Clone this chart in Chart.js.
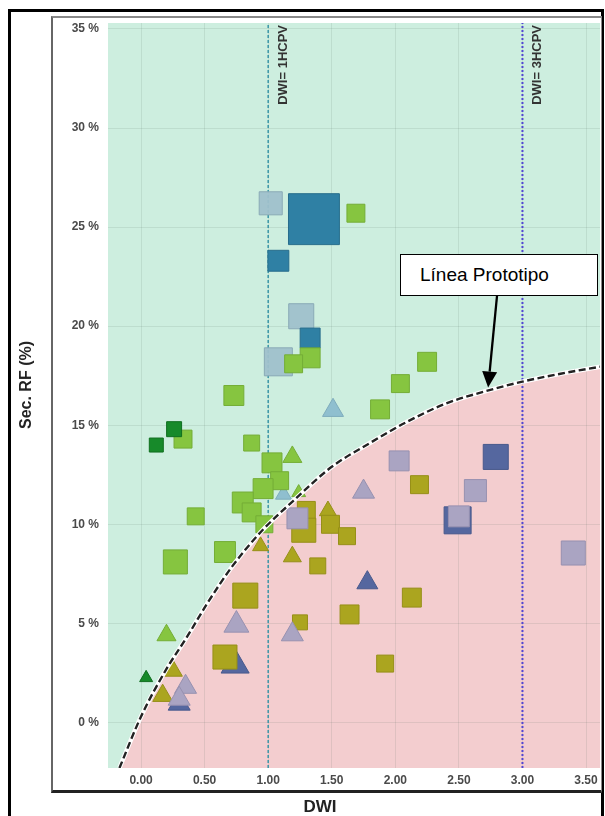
<!DOCTYPE html>
<html>
<head>
<meta charset="utf-8">
<script src="https://cdn.jsdelivr.net/npm/chart.js@4.4.1/dist/chart.umd.min.js"></script>
<style>
    html, body { margin: 0; padding: 0; background: #fff; overflow: hidden; }
    #page { position: relative; width: 605px; height: 816px; font-family: "Liberation Sans", Arial, sans-serif; }
    #outer { position: absolute; left: 8px; top: 9px; width: 596px; height: 840px; border: 3px solid #000; box-sizing: border-box; }
    #inner { position: absolute; left: 51px; top: 16px; width: 551px; height: 777px; box-sizing: border-box;
             border-left: 2px solid #666; border-top: 2px solid #888; border-right: 1px solid #888; border-bottom: 3px solid #222; }
    #wrap { position: absolute; left: 0; top: 0; width: 605px; height: 816px; }
    .ytitle { position: absolute; left: 26px; top: 385px; transform: translate(-50%, -50%) rotate(-90deg);
              font-weight: bold; font-size: 16px; color: #222; white-space: nowrap; }
    .xtitle { position: absolute; left: 320px; top: 807px; transform: translate(-50%, -50%);
              font-weight: bold; font-size: 17px; color: #222; white-space: nowrap; }
    .callout { position: absolute; left: 400px; top: 254px; width: 198px; height: 42px; box-sizing: border-box;
               border: 1px solid #000; background: #fff; font-size: 19px; line-height: 40px; padding-left: 19px; color: #000; white-space: nowrap; }
</style>
</head>
<body>
<div id="page">
    <div id="outer"></div>
    <div id="inner"></div>
    <div id="wrap"><canvas id="chart"></canvas></div>
    <div class="ytitle">Sec. RF (%)</div>
    <div class="xtitle">DWI</div>
    <div class="callout">Línea Prototipo</div>
</div>
<script>
const xTicks = [0, 0.5, 1, 1.5, 2, 2.5, 3, 3.5];
const yTicks = [0, 5, 10, 15, 20, 25, 30, 35];
const xRange = [-0.26, 3.61];
const yRange = [-2.3, 35.3];

// reference lines
const refLines = [1, 3];
const refLabels = ['DWI= 1HCPV', 'DWI= 3HCPV'];

// prototype line
const curveDwi = [-0.17, 0.0, 0.2, 0.36, 0.52, 0.72, 0.94, 1.2, 1.5, 1.8, 2.1, 2.4, 2.7, 3.0, 3.3, 3.61];
const curveRf  = [-2.3, 0.3, 2.7, 4.3, 6.0, 7.9, 9.6, 11.2, 12.9, 14.1, 15.2, 16.1, 16.7, 17.2, 17.6, 17.95];

// markers: DWI, Sec. RF (%), bubble radius
const limeSqDwi = [1.69, 1.33, 1.20, 2.25, 2.04, 1.88, 0.73, 0.33, 0.87, 1.03, 1.09, 0.96, 0.80, 0.87, 0.97, 0.43, 0.66, 0.27];
const limeSqRf  = [25.7, 18.4, 18.1, 18.2, 17.1, 15.8, 16.5, 14.3, 14.1, 13.1, 12.2, 11.8, 11.1, 10.6, 10.0, 10.4, 8.6, 8.1];
const limeSqR   = [12.7, 14.1, 12.7, 13.4, 12.7, 13.4, 14.1, 12.7, 11.3, 14.1, 12.7, 14.1, 14.8, 13.4, 12, 12, 14.8, 17];

const limeTriDwi = [1.19, 0.20, 1.24];
const limeTriRf  = [13.4, 4.4, 11.6];
const limeTriR   = [11, 11, 8];

const darkSqDwi = [0.26, 0.12];
const darkSqRf  = [14.8, 14.0];
const darkSqR   = [10.6, 9.9];

const darkTriDwi = [0.04];
const darkTriRf  = [2.25];
const darkTriR   = [7.5];

const tealSqDwi = [1.36, 1.08, 1.33];
const tealSqRf  = [25.4, 23.3, 19.4];
const tealSqR   = [36, 14.8, 14.1];

const steelSqDwi = [1.02, 1.26, 1.08];
const steelSqRf  = [26.2, 20.5, 18.2];
const steelSqR   = [16.3, 17.7, 19.8];

const skyTriDwi = [1.51, 1.12];
const skyTriRf  = [15.75, 11.5];
const skyTriR   = [12.1, 9.2];

const lavSqDwi = [2.03, 2.63, 2.50, 3.40, 1.23];
const lavSqRf  = [13.2, 11.7, 10.4, 8.55, 10.3];
const lavSqR   = [14.1, 15.6, 14.8, 17, 14.8];

const lavTriDwi = [1.75, 0.75, 1.19, 0.35, 0.30];
const lavTriRf  = [11.64, 4.92, 4.44, 1.79, 1.19];
const lavTriR   = [12.7, 14.4, 12.7, 12.7, 12.7];

const slateSqDwi = [2.79, 2.49];
const slateSqRf  = [13.4, 10.2];
const slateSqR   = [17.7, 19.1];

const slateTriDwi = [1.78, 0.74, 0.30];
const slateTriRf  = [7.05, 2.9, 0.94];
const slateTriR   = [12.1, 16.2, 12.7];

const oliveSqDwi = [2.19, 2.13, 1.64, 1.92, 1.39, 1.30, 1.28, 1.49, 1.62, 0.82, 1.25, 0.66];
const oliveSqRf  = [12.0, 6.3, 5.45, 2.97, 7.9, 10.7, 9.7, 10.0, 9.4, 6.4, 5.05, 3.3];
const oliveSqR   = [12.7, 13.4, 13.4, 12, 11.3, 12.7, 17, 12.7, 12, 17.7, 10.6, 17];

const oliveTriDwi = [1.47, 0.94, 1.19, 0.25, 0.17];
const oliveTriRf  = [10.68, 8.9, 8.37, 2.61, 1.35];
const oliveTriR   = [9.8, 9.2, 10.4, 11, 11.5];

// arrow tip of the callout (on the prototype line)
const arrowTip = { x: 2.73, y: 16.9 };
const calloutTail = [497, 296];

const pts = (xs, ys, rs) => xs.map((x, i) => ({ x: x, y: ys[i], r: rs[i] }));
const line = (xs, ys) => xs.map((x, i) => ({ x: x, y: ys[i] }));

function markers(data, style, fill, border, order) {
    return {
        type: 'bubble',
        data: data,
        pointStyle: style,
        backgroundColor: fill,
        borderColor: border,
        borderWidth: 1,
        order: order
    };
}

function refLine(v, color, dash, width) {
    return {
        type: 'line',
        data: [{ x: v, y: yRange[0] }, { x: v, y: yRange[1] }],
        borderColor: color,
        borderWidth: width,
        borderDash: dash,
        pointRadius: 0,
        fill: false,
        order: 19
    };
}

const decorPlugin = {
    id: 'decor',
    beforeDraw(chart) {
        const { ctx, chartArea: a } = chart;
        ctx.save();
        ctx.globalCompositeOperation = 'destination-over';
        ctx.fillStyle = '#cdeedf';
        ctx.fillRect(a.left, a.top, a.right - a.left, a.bottom - a.top);
        ctx.restore();
    },
    afterDatasetsDraw(chart) {
        const { ctx, chartArea: a, scales: { x, y } } = chart;
        ctx.save();
        ctx.font = 'bold 13px "Liberation Sans", Arial, sans-serif';
        ctx.fillStyle = '#333';
        ctx.textAlign = 'right';
        ctx.textBaseline = 'middle';
        refLines.forEach((v, i) => {
            ctx.save();
            ctx.translate(x.getPixelForValue(v) + 15, a.top + 2);
            ctx.rotate(-Math.PI / 2);
            ctx.fillText(refLabels[i], 0, 0);
            ctx.restore();
        });

        // callout arrow
        const tx = x.getPixelForValue(arrowTip.x);
        const ty = y.getPixelForValue(arrowTip.y);
        const [sx, sy] = calloutTail;
        const ang = Math.atan2(ty - sy, tx - sx);
        const headLen = 16, headW = 7.5;
        const bx = tx - Math.cos(ang) * headLen, by = ty - Math.sin(ang) * headLen;
        ctx.strokeStyle = '#000';
        ctx.lineWidth = 2.3;
        ctx.beginPath();
        ctx.moveTo(sx, sy);
        ctx.lineTo(bx, by);
        ctx.stroke();
        ctx.fillStyle = '#000';
        ctx.beginPath();
        ctx.moveTo(tx, ty);
        ctx.lineTo(bx + Math.sin(ang) * headW, by - Math.cos(ang) * headW);
        ctx.lineTo(bx - Math.sin(ang) * headW, by + Math.cos(ang) * headW);
        ctx.closePath();
        ctx.fill();
        ctx.restore();
    }
};

const tickFont = { family: '"Liberation Sans", Arial, sans-serif', size: 12, weight: 'bold' };
const gridColor = 'rgba(70, 100, 90, 0.12)';

const ctx = document.getElementById('chart').getContext('2d');
new Chart(ctx, {
    type: 'bubble',
    data: {
        datasets: [
            {
                type: 'line',
                data: line(curveDwi, curveRf),
                borderWidth: 0,
                pointRadius: 0,
                backgroundColor: '#f3cdcf',
                fill: 'start',
                cubicInterpolationMode: 'monotone',
                order: 20
            },
            refLine(refLines[0], '#3a96a8', [3, 2], 1.5),
            refLine(refLines[1], '#5246d2', [2, 2], 2),
            markers(pts(slateSqDwi, slateSqRf, slateSqR), 'rect', '#55679f', '#48598c', 15),
            markers(pts(slateTriDwi, slateTriRf, slateTriR), 'triangle', '#55679f', '#48598c', 14),
            markers(pts(steelSqDwi, steelSqRf, steelSqR), 'rect', 'rgba(159,192,203,0.95)', '#8aaab6', 13),
            markers(pts(tealSqDwi, tealSqRf, tealSqR), 'rect', '#2f80a4', '#276d8c', 12),
            markers(pts(skyTriDwi, skyTriRf, skyTriR), 'triangle', '#8fbfcf', '#7eacbc', 11),
            markers(pts(oliveTriDwi, oliveTriRf, oliveTriR), 'triangle', '#aba51f', '#968f18', 10),
            markers(pts(oliveSqDwi, oliveSqRf, oliveSqR), 'rect', '#aba51f', '#968f18', 9),
            markers(pts(lavTriDwi, lavTriRf, lavTriR), 'triangle', '#aaa4c2', '#9791b0', 8),
            markers(pts(lavSqDwi, lavSqRf, lavSqR), 'rect', '#aaa4c2', '#9791b0', 7),
            markers(pts(limeTriDwi, limeTriRf, limeTriR), 'triangle', '#86c540', '#74ad36', 6),
            markers(pts(limeSqDwi, limeSqRf, limeSqR), 'rect', '#86c540', '#74ad36', 5),
            markers(pts(darkSqDwi, darkSqRf, darkSqR), 'rect', '#178a2a', '#0f6e1f', 4),
            markers(pts(darkTriDwi, darkTriRf, darkTriR), 'triangle', '#178a2a', '#0f6e1f', 3),
            {
                type: 'line',
                data: line(curveDwi, curveRf),
                borderColor: '#ffffff',
                borderWidth: 4.5,
                pointRadius: 0,
                fill: false,
                cubicInterpolationMode: 'monotone',
                order: 1
            },
            {
                type: 'line',
                data: line(curveDwi, curveRf),
                borderColor: '#222',
                borderWidth: 2.4,
                borderDash: [7, 3.5],
                pointRadius: 0,
                fill: false,
                cubicInterpolationMode: 'monotone',
                order: 0
            }
        ]
    },
    options: {
        responsive: true,
        maintainAspectRatio: false,
        animation: false,
        layout: { autoPadding: false, padding: { top: 23, right: 5, left: 0, bottom: 0 } },
        plugins: {
            legend: { display: false },
            tooltip: { enabled: false },
            filler: { drawTime: 'beforeDraw' }
        },
        scales: {
            x: {
                type: 'linear',
                min: xRange[0],
                max: xRange[1],
                afterBuildTicks: axis => { axis.ticks = xTicks.map(v => ({ value: v })); },
                afterFit: scale => { scale.height = 48; },
                ticks: {
                    callback: v => v.toFixed(2),
                    font: tickFont,
                    color: '#4a4a4a',
                    padding: 5,
                    maxRotation: 0
                },
                grid: { color: gridColor, drawTicks: false },
                border: { display: false }
            },
            y: {
                type: 'linear',
                min: yRange[0],
                max: yRange[1],
                afterBuildTicks: axis => { axis.ticks = yTicks.map(v => ({ value: v })); },
                afterFit: scale => { scale.width = 108; },
                ticks: {
                    callback: v => v + ' %',
                    font: tickFont,
                    color: '#4a4a4a',
                    padding: 9
                },
                grid: { color: gridColor, drawTicks: false },
                border: { display: false }
            }
        }
    },
    plugins: [decorPlugin]
});
</script>
</body>
</html>
